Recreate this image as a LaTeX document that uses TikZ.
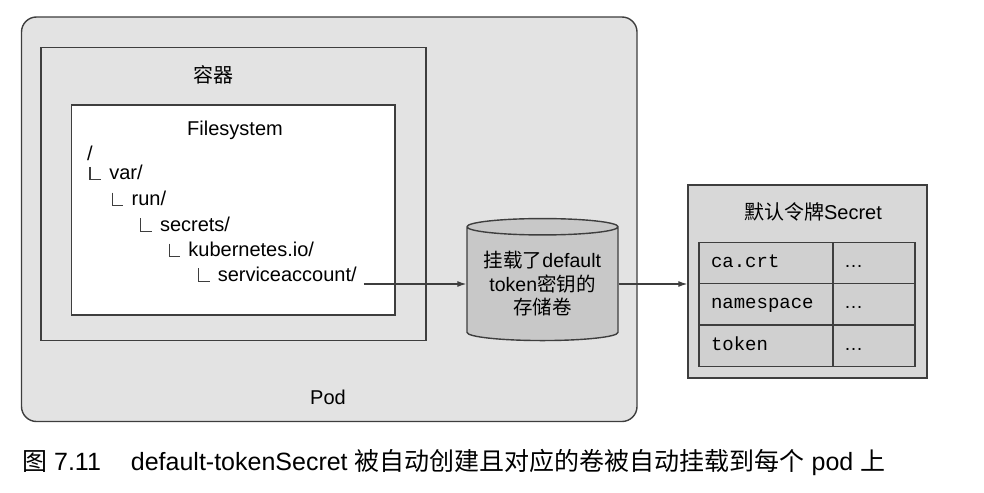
\documentclass[tikz,border=0pt]{standalone}
\usepackage{fontspec}
\setmainfont{Liberation Sans}
\setmonofont{Liberation Mono}
\newfontfamily\cjk{Noto Sans CJK SC}
\usetikzlibrary{shapes.geometric,arrows.meta,trees}
\definecolor{podfill}{RGB}{227,227,227}
\definecolor{volfill}{RGB}{200,200,200}
\definecolor{secfill}{RGB}{216,216,216}
\definecolor{cellfill}{RGB}{208,208,208}
\definecolor{linegray}{RGB}{62,62,62}
\begin{document}
\begin{tikzpicture}[x=1pt, y=-1pt,
      box/.style={draw=linegray, line width=1.4pt, inner sep=0pt},
      txt/.style={font=\fontsize{20}{24}\selectfont, inner sep=0pt},
      volume/.style={box, cylinder, shape border rotate=90, aspect=0.14, fill=volfill,
        minimum width=151, minimum height=122, align=center, font=\fontsize{19.5}{23.5}\selectfont},
      keycell/.style={box, fill=cellfill, minimum width=134, minimum height=41.3,
        text width=110, text height=13pt, text depth=4pt, align=left, font=\ttfamily\fontsize{19}{24}\selectfont},
      valcell/.style={box, fill=cellfill, minimum width=82, minimum height=41.3,
        text width=60, text height=13pt, text depth=4pt, align=left, font=\fontsize{19}{24}\selectfont},
      link/.style={draw=linegray, line width=1.1pt, -{Latex[length=9pt,width=6pt]}}]
      \useasboundingbox (0,0) rectangle (984,492);
      % Pod and container
      \node[box, rounded corners=15pt, fill=podfill, minimum width=615.5, minimum height=404.5] (pod) at (329.25,219.25) {};
      \node[box, line width=1.7pt, fill=podfill, minimum width=385, minimum height=293] (ctr) at (233.5,194) {};
      \node[box, fill=white, minimum width=323.5, minimum height=210] (fs) at (233.25,210) {};
      \node[txt] (ctrlabel) at (213,75) {\cjk 容器};
      \node[txt] (fslabel) at (235,130) {Filesystem};
      \node[txt] (podlabel) at (328,397) {Pod};
      % File tree
      \begin{scope}[every node/.style={txt, anchor=base west},
          growth parent anchor=base west,
          edge from parent/.style={draw=linegray, line width=1.2pt},
          edge from parent path={([shift={(-19pt,13pt)}]\tikzchildnode.base west) |- ([xshift=-8pt]\tikzchildnode.base west)},
          level 1/.style={grow=-42.3, level distance=29.7pt},
          level 2/.style={grow=-49.8, level distance=34.1pt},
          level 3/.style={grow=-42.9, level distance=38.2pt},
          level 4/.style={grow=-42.9, level distance=38.2pt},
          level 5/.style={grow=-40.8, level distance=38.3pt}]
        % Root
        \node (root) at (87,160) {/}
        % First level
        child {node (var) {var/}
          child {node (run) {run/}
            child {node (secrets) {secrets/}
              child {node (k8s) {kubernetes.io/}
                % Last level
                child {node (sa) {serviceaccount/}}
              }
            }
          }
        };
      \end{scope}
      % Volume
      \node[volume] (vol) at (542.5,284) {{\cjk 挂载了}default\\token{\cjk 密钥的}\\{\cjk 存储卷}};
      % Secret
      \node[box, fill=secfill, minimum width=239, minimum height=193] (secret) at (807.5,281.5) {};
      \node[txt] (sectitle) at (813,212) {{\cjk 默认令牌}Secret};
      \foreach \key [count=\i] in {ca.crt, namespace, token} {
        \node[keycell] (key\i) at (766,{263+41.3*(\i-1)}) {\key};
        \node[valcell] (val\i) at (874,{263+41.3*(\i-1)}) {\dots};
      }
      % Arrows
      \draw[link] ([xshift=7pt]sa.east |- vol.west) -- (vol.west);
      \draw[link] (vol.east) -- (vol.east -| secret.west);
      % Caption
      \node[font=\fontsize{25}{30}\selectfont, inner sep=0pt, anchor=west] (caption) at (22,462)
        {{\cjk 图} 7.11\hspace{30pt}default-tokenSecret {\cjk 被自动创建且对应的卷被自动挂载到每个} pod {\cjk 上}};
\end{tikzpicture}
\end{document}
